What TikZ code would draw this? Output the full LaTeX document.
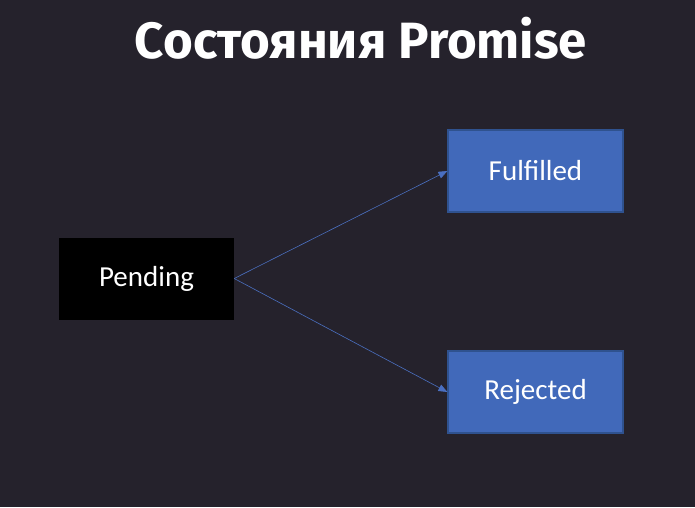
\documentclass[tikz,border=0pt]{standalone}
\usepackage{fontspec}
\setmainfont{Carlito}
\newfontfamily\titlefont{Fira Sans}
\usetikzlibrary{arrows.meta}
\definecolor{bg}{HTML}{25222C}
\definecolor{stateblue}{HTML}{4169BA}
\definecolor{stateedge}{HTML}{2F528F}
\definecolor{linkblue}{HTML}{4A6FC0}
\begin{document}
\begin{tikzpicture}[x=1pt,y=-1pt,
  statebox/.style={minimum width=175pt,minimum height=82pt,inner sep=0pt,
    text=white,font=\fontsize{29}{34}\selectfont},
  pendingbox/.style={statebox,fill=black},
  resultbox/.style={statebox,fill=stateblue,draw=stateedge,line width=1.2pt},
  link/.style={draw=linkblue,line width=0.6pt,-{Triangle[length=9pt,width=7pt]}}]
  \fill[bg] (0,0) rectangle (695,507);
  \useasboundingbox (0,0) rectangle (695,507);
  \node[anchor=base,text=white,inner sep=0pt] (title) at (361,58)
    {\titlefont\bfseries\fontsize{51}{58}\selectfont Состояния Promise};
  \node[pendingbox] (pending) at (146.5,278.5) {Pending};
  \node[resultbox] (fulfilled) at (535.5,171) {Fulfilled};
  \node[resultbox] (rejected) at (535.5,392) {Rejected};
  \draw[link] (pending.east) -- (fulfilled.west);
  \draw[link] (pending.east) -- (rejected.west);
\end{tikzpicture}
\end{document}
